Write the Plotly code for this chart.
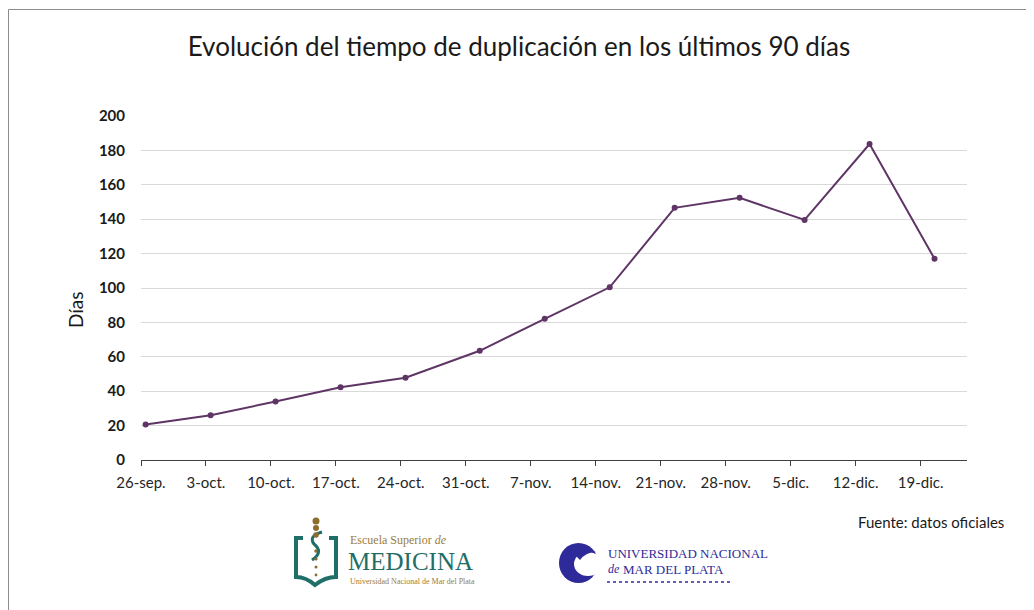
import plotly.graph_objects as go
import pandas as pd

# ---- data ----
dates = ["2020-09-26", "2020-10-03", "2020-10-10", "2020-10-17", "2020-10-24",
         "2020-11-01", "2020-11-08", "2020-11-15", "2020-11-22", "2020-11-29",
         "2020-12-06", "2020-12-13", "2020-12-20"]
dias = [20.6, 26.0, 34.0, 42.3, 47.8, 63.5, 82.1, 100.4, 146.6, 152.4, 139.6, 183.7, 117.0]

tick_dates = ["2020-09-26", "2020-10-03", "2020-10-10", "2020-10-17", "2020-10-24",
              "2020-10-31", "2020-11-07", "2020-11-14", "2020-11-21", "2020-11-28",
              "2020-12-05", "2020-12-12", "2020-12-19"]
tick_labels = ["26-sep.", "3-oct.", "10-oct.", "17-oct.", "24-oct.", "31-oct.", "7-nov.",
               "14-nov.", "21-nov.", "28-nov.", "5-dic.", "12-dic.", "19-dic."]
y_ticks = [0, 20, 40, 60, 80, 100, 120, 140, 160, 180, 200]

title = "Evolución del tiempo de duplicación en los últimos 90 días"
y_title = "Días"
source = "Fuente: datos oficiales"

# points sit in the middle of their day (date axis)
x_vals = pd.to_datetime(dates) + pd.Timedelta(hours=12)

OFF = 8  # page body margin
W, H = 1026, 602
L, R, T, B = 133, 67, 108, 150
PW, PH = W - L - R, H - T - B


def px(x):  # page x -> paper
    return (x - OFF - L) / PW


def py(y):  # page y -> paper
    return (H - B - (y - OFF)) / PH


LINE = "#5f3566"
FONT = "Lato, sans-serif"
SERIF = "Liberation Serif, serif"
GOLD = "#9a7d3c"
TEAL = "#1f6e68"
BLUE = "#2e2a9a"

fig = go.Figure()
fig.add_trace(go.Scatter(
    x=x_vals, y=dias, mode="lines+markers",
    line=dict(color=LINE, width=2),
    marker=dict(color=LINE, size=6),
    showlegend=False, hoverinfo="x+y",
))

fig.update_layout(
    width=W, height=H,
    margin=dict(l=L, r=R, t=T, b=B),
    paper_bgcolor="white", plot_bgcolor="white",
    font=dict(family=FONT, color="#262626"),
    title=dict(text=title, x=(519 - OFF) / W, xref="container", xanchor="center",
               y=1 - (47 - OFF) / H, yref="container", yanchor="middle",
               font=dict(size=26, color="#1a1a1a", family=FONT)),
    xaxis=dict(
        type="date",
        range=["2020-09-26", "2020-12-24"],
        tickmode="array", tickvals=tick_dates, ticktext=tick_labels,
        ticks="outside", ticklen=5, tickcolor="#404040", tickwidth=1,
        showline=True, linecolor="#404040", linewidth=1,
        showgrid=False, zeroline=False,
        tickfont=dict(size=15, color="#262626"),
        ticklabelstandoff=4,
    ),
    yaxis=dict(
        range=[0, 200], tickmode="array", tickvals=y_ticks,
        showgrid=True, gridcolor="#d9d9d9", gridwidth=1,
        zeroline=False, showline=False, ticks="",
        tickfont=dict(size=15, color="#1a1a1a", family=FONT, weight="bold"),
        ticklabelstandoff=15,
    ),
)

fig.add_annotation(text=y_title, xref="paper", yref="paper", x=px(75), y=py(310),
                   xanchor="center", yanchor="middle",
                   textangle=-90, showarrow=False, font=dict(size=19, color="#1a1a1a"))
fig.add_annotation(text=source, xref="paper", yref="paper", x=px(1006), y=py(522),
                   xanchor="right", yanchor="middle", showarrow=False,
                   font=dict(size=15, color="#1a1a1a"))
# Escuela Superior de Medicina logo text
fig.add_annotation(text="Escuela Superior <i>de</i>", xref="paper", yref="paper",
                   x=px(348), y=py(540), xanchor="left", yanchor="middle", showarrow=False,
                   font=dict(size=12, color=GOLD, family=SERIF))
fig.add_annotation(text="MEDICINA", xref="paper", yref="paper",
                   x=px(346), y=py(561), xanchor="left", yanchor="middle", showarrow=False,
                   font=dict(size=25, color=TEAL, family=SERIF))
fig.add_annotation(text="Universidad Nacional de Mar del Plata", xref="paper", yref="paper",
                   x=px(348), y=py(581), xanchor="left", yanchor="middle", showarrow=False,
                   font=dict(size=8, color=GOLD, family=SERIF))
# UNMdP logo text
fig.add_annotation(text="UNIVERSIDAD NACIONAL", xref="paper", yref="paper",
                   x=px(606), y=py(553), xanchor="left", yanchor="middle", showarrow=False,
                   font=dict(size=13, color=BLUE, family=SERIF))
fig.add_annotation(text="<i>de</i>", xref="paper", yref="paper",
                   x=px(606), y=py(569), xanchor="left", yanchor="middle", showarrow=False,
                   font=dict(size=12, color=BLUE, family=SERIF))
fig.add_annotation(text="MAR DEL PLATA", xref="paper", yref="paper",
                   x=px(621), y=py(569), xanchor="left", yanchor="middle", showarrow=False,
                   font=dict(size=13, color=BLUE, family=SERIF))

shapes = [
    # outer frame (left, top, right)
    dict(type="path", xref="paper", yref="paper",
         path=f"M {px(8.5)},{py(612)} L {px(8.5)},{py(9.5)} L {px(1030)},{py(9.5)} L {px(1030)},{py(612)}",
         line=dict(color="#8c8c8c", width=1), layer="below"),
    # shield of the medicine logo
    dict(type="path", xref="paper", yref="paper",
         path=(f"M {px(303)},{py(538)} L {px(296)},{py(538)} L {px(296)},{py(577)} "
               f"Q {px(306)},{py(577)} {px(315)},{py(585)} Q {px(325)},{py(577)} {px(336)},{py(577)} "
               f"L {px(336)},{py(538)} L {px(329)},{py(538)}"),
         line=dict(color=TEAL, width=4)),
    dict(type="path", xref="paper", yref="paper",
         path=(f"M {px(322)},{py(532)} Q {px(308)},{py(536)} {px(314)},{py(544)} "
               f"Q {px(324)},{py(552)} {px(312)},{py(560)}"),
         line=dict(color=TEAL, width=3)),
    # dotted rule under UNMdP text
    dict(type="line", xref="paper", yref="paper", x0=px(607), x1=px(730), y0=py(582), y1=py(582),
         line=dict(color=BLUE, width=1.5, dash="dot")),
    # UNMdP emblem: blue disc with a white bite
    dict(type="circle", xref="paper", yref="paper", x0=px(559), x1=px(598), y0=py(583), y1=py(543),
         fillcolor=BLUE, line=dict(width=0)),
    dict(type="circle", xref="paper", yref="paper", x0=px(574), x1=px(602), y0=py(576), y1=py(552),
         fillcolor="white", line=dict(width=0)),
    dict(type="path", xref="paper", yref="paper",
         path=(f"M {px(576)},{py(556)} Q {px(586)},{py(548)} {px(596)},{py(552)} "
               f"Q {px(586)},{py(552)} {px(580)},{py(560)} Z"),
         fillcolor=BLUE, line=dict(width=0)),
]
# golden dots of the medicine logo
for yy, r in [(521, 3.5), (528, 3), (535, 2.8), (551, 1.8), (559, 1.6), (567, 1.5), (575, 1.4)]:
    shapes.append(dict(type="circle", xref="paper", yref="paper",
                       x0=px(316 - r), x1=px(316 + r), y0=py(yy + r), y1=py(yy - r),
                       fillcolor="#8c6d2c", line=dict(width=0)))
fig.update_layout(shapes=shapes)

fig.write_html("out.html")
